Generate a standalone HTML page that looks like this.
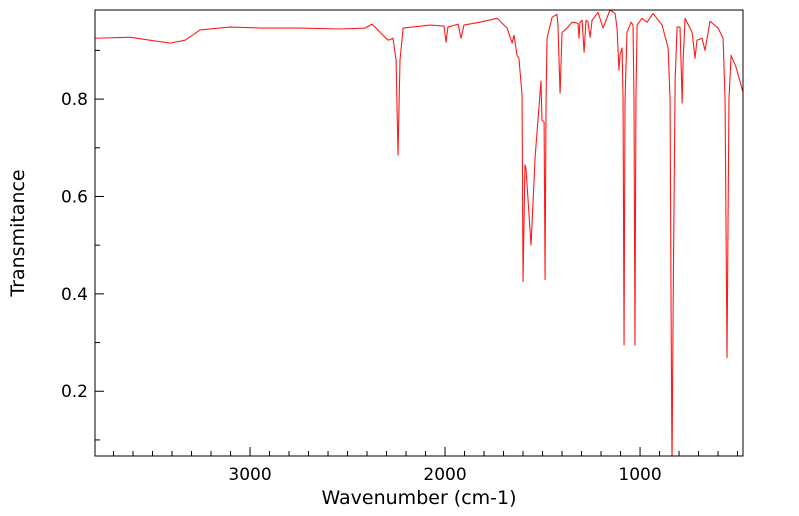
<!DOCTYPE html>
<html><head><meta charset="utf-8"><style>
html,body{margin:0;padding:0;background:#fff;}
svg{display:block;font-family:"DejaVu Sans","Liberation Sans",sans-serif;}
</style></head><body>
<svg id="chart" width="799" height="516" viewBox="0 0 799 516" xmlns="http://www.w3.org/2000/svg">
<defs><clipPath id="clip"><rect x="95" y="10" width="648" height="446"/></clipPath></defs>
<g id="ticks"></g>
<path id="trace" clip-path="url(#clip)" fill="none" stroke="#ff1a1a" stroke-width="1.1" stroke-linejoin="round"/>
<rect x="95" y="10" width="648" height="446" fill="none" stroke="#000" stroke-width="1"/>
<text x="419" y="504" font-size="19" text-anchor="middle">Wavenumber (cm-1)</text>
<text transform="translate(24,233) rotate(-90)" font-size="19" text-anchor="middle">Transmitance</text>
</svg>
<script>
const wavenumbers = [3795,3615,3513,3410,3333,3256,3103,2949,2744,2538,2410,2374,2333,2292,2267,2251,2241,2231,2215,2077,2005,1995,1985,1933,1918,1903,1821,1733,1682,1656,1646,1631,1621,1605,1600,1590,1585,1559,1538,1508,1503,1492,1487,1482,1477,1451,1426,1421,1410,1400,1374,1349,1318,1313,1308,1297,1287,1277,1267,1256,1246,1215,1190,1154,1128,1118,1108,1103,1092,1087,1082,1077,1067,1046,1036,1031,1026,1021,1015,990,964,933,887,856,846,841,836,830,820,810,795,790,784,779,769,733,718,708,682,667,641,600,574,564,554,544,533,508,472];
const transmittance = [0.925,0.927,0.921,0.915,0.921,0.942,0.948,0.946,0.946,0.944,0.946,0.954,0.937,0.921,0.925,0.880,0.685,0.880,0.946,0.952,0.950,0.917,0.948,0.954,0.925,0.952,0.958,0.966,0.946,0.915,0.931,0.890,0.884,0.808,0.425,0.665,0.658,0.500,0.681,0.837,0.757,0.753,0.429,0.798,0.925,0.968,0.974,0.952,0.812,0.937,0.946,0.958,0.956,0.925,0.958,0.962,0.896,0.962,0.958,0.927,0.962,0.978,0.946,0.983,0.976,0.946,0.859,0.890,0.905,0.798,0.295,0.798,0.937,0.958,0.952,0.798,0.295,0.798,0.952,0.966,0.958,0.976,0.952,0.905,0.798,0.388,0.039,0.388,0.839,0.948,0.948,0.880,0.792,0.880,0.966,0.937,0.884,0.921,0.925,0.900,0.960,0.946,0.925,0.798,0.269,0.798,0.890,0.866,0.814];
const xTickLabels = [3000,2000,1000];
const yTickLabels = [0.2,0.4,0.6,0.8];
const X0=95,X1=743,Y0=10,Y1=456,WMAX=3795,WMIN=472,TMIN=0.067,TMAX=0.983;
function xs(w){return X0+(WMAX-w)/(WMAX-WMIN)*(X1-X0);}
function ys(t){return Y1-(t-TMIN)/(TMAX-TMIN)*(Y1-Y0);}
const NS="http://www.w3.org/2000/svg";
let d="";
for(let i=0;i<wavenumbers.length;i++){d+=(i?"L":"M")+xs(wavenumbers[i]).toFixed(2)+" "+ys(transmittance[i]).toFixed(2);}
document.getElementById("trace").setAttribute("d",d);
const g=document.getElementById("ticks");
function line(x1,y1,x2,y2,name){const l=document.createElementNS(NS,"line");l.setAttribute("x1",x1);l.setAttribute("y1",y1);l.setAttribute("x2",x2);l.setAttribute("y2",y2);l.setAttribute("stroke","#000");


g.appendChild(l);}
for(let w=3700;w>=WMIN;w-=100){const x=xs(w);const major=w%1000===0;line(x,Y1,x,Y1-(major?9:5),major?"x-major-tick":"x-minor-tick");}
for(let t=0.1;t<TMAX;t+=0.1){const v=Math.round(t*10)/10;const y=ys(v);const major=Math.round(v*10)%2===0;line(X0,y,X0+(major?9:5),y,major?"y-major-tick":"y-minor-tick");}
xTickLabels.forEach(v=>{const t=document.createElementNS(NS,"text");t.setAttribute("x",xs(v));t.setAttribute("y",480);t.setAttribute("font-size","17");t.setAttribute("text-anchor","middle");t.textContent=v;


g.appendChild(t);});
yTickLabels.forEach(v=>{const t=document.createElementNS(NS,"text");t.setAttribute("x",88);t.setAttribute("y",ys(v)+6);t.setAttribute("font-size","17");t.setAttribute("text-anchor","end");t.textContent=v.toFixed(1);


g.appendChild(t);});
</script>
</body></html>
